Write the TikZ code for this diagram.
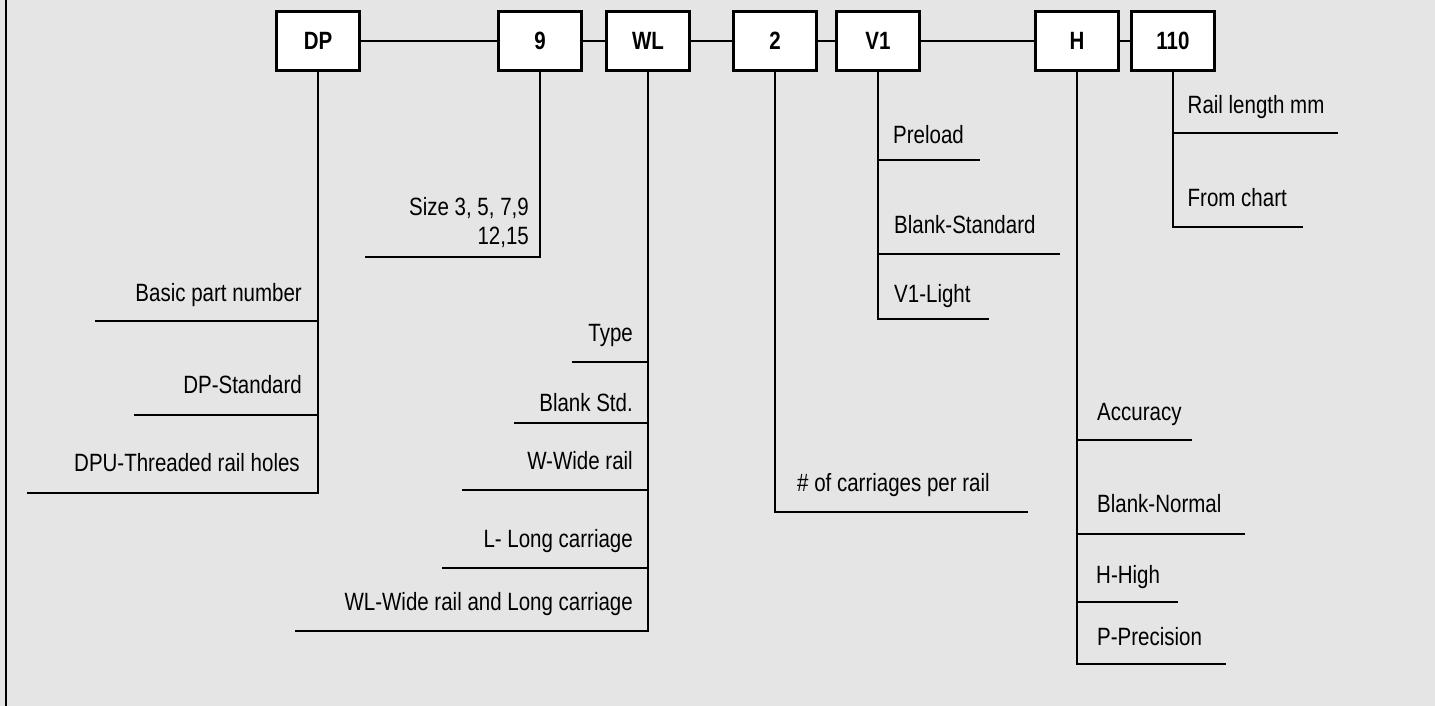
\documentclass[tikz,border=0pt]{standalone}
\usepackage{fontspec}
\setmainfont{Liberation Sans}[FakeStretch=0.82]
\usepackage{xcolor}
\usepackage{tikz}
\usetikzlibrary{positioning,calc}

\definecolor{panelgray}{HTML}{E5E5E5}

\begin{document}
\begin{tikzpicture}[x=1pt, y=-1pt,
  block/.style={rectangle, draw, fill=white, line width=2.2pt, minimum width=83pt, minimum height=59pt, inner sep=0pt, font=\fontsize{25}{29}\selectfont\bfseries},
  line/.style={draw, line width=2pt},
  note/.style={inner sep=0pt, font=\fontsize{25}{29}\selectfont}]

  % panel
  \fill [panelgray] (0,0) rectangle (1435,706);
  \useasboundingbox (0,0) rectangle (1435,706);
  \draw [line width=2.4pt] (5.8,0) -- (5.8,706);

  % code boxes
  \node [block] (dp) at (318,41) {DP};
  \node [block] (size) at (540,41) {9};
  \node [block] (type) at (648,41) {WL};
  \node [block] (qty) at (775,41) {2};
  \node [block] (load) at (878,41) {V1};
  \node [block] (acc) at (1077,41) {H};
  \node [block] (len) at (1173,41) {110};

  \path [line] (dp) -- (size);
  \path [line] (size) -- (type);
  \path [line] (type) -- (qty);
  \path [line] (qty) -- (load);
  \path [line] (load) -- (acc);
  \path [line] (acc) -- (len);

  % DP
  \coordinate (dp1) at (95,321);
  \coordinate (dp2) at (134,415);
  \coordinate (dp3) at (27,493);
  \path [line] (dp.south) |- (dp3);
  \path [line] (dp.south |- dp1) -- (dp1);
  \path [line] (dp.south |- dp2) -- (dp2);
  \node [note, anchor=base east] (dpt1) at (302,301) {Basic part number};
  \node [note, anchor=base east] (dpt2) at (302,393) {DP-Standard};
  \node [note, anchor=base east] (dpt3) at (300,471) {DPU-Threaded rail holes};

  % size
  \coordinate (size1) at (365,257);
  \path [line] (size.south) |- (size1);
  \node [note, anchor=base east] (sizet1) at (529,215) {Size 3, 5, 7,9};
  \node [note, anchor=base east] (sizet2) at (529,244) {12,15};

  % type
  \coordinate (type1) at (572,362);
  \coordinate (type2) at (514,423);
  \coordinate (type3) at (462,490);
  \coordinate (type4) at (442,568);
  \coordinate (type5) at (295,631);
  \path [line] (type.south) |- (type5);
  \path [line] (type.south |- type1) -- (type1);
  \path [line] (type.south |- type2) -- (type2);
  \path [line] (type.south |- type3) -- (type3);
  \path [line] (type.south |- type4) -- (type4);
  \node [note, anchor=base east] (typet1) at (633,341) {Type};
  \node [note, anchor=base east] (typet2) at (633,411) {Blank Std.};
  \node [note, anchor=base east] (typet3) at (633,469) {W-Wide rail};
  \node [note, anchor=base east] (typet4) at (633,547) {L- Long carriage};
  \node [note, anchor=base east] (typet5) at (633,610) {WL-Wide rail and Long carriage};

  % carriages
  \coordinate (qty1) at (1028,512);
  \path [line] (qty.south) |- (qty1);
  \node [note, anchor=base west] (qtyt1) at (797,491) {\# of carriages per rail};

  % preload
  \coordinate (load1) at (980,160.5);
  \coordinate (load2) at (1060,254);
  \coordinate (load3) at (989,318.5);
  \path [line] (load.south) |- (load3);
  \path [line] (load.south |- load1) -- (load1);
  \path [line] (load.south |- load2) -- (load2);
  \node [note, anchor=base west] (loadt1) at (893,143) {Preload};
  \node [note, anchor=base west] (loadt2) at (894,233) {Blank-Standard};
  \node [note, anchor=base west] (loadt3) at (894,302) {V1-Light};

  % accuracy
  \coordinate (acc1) at (1192,439.5);
  \coordinate (acc2) at (1245,533.5);
  \coordinate (acc3) at (1178,602);
  \coordinate (acc4) at (1226,664);
  \path [line] (acc.south) |- (acc4);
  \path [line] (acc.south |- acc1) -- (acc1);
  \path [line] (acc.south |- acc2) -- (acc2);
  \path [line] (acc.south |- acc3) -- (acc3);
  \node [note, anchor=base west] (acct1) at (1097,420) {Accuracy};
  \node [note, anchor=base west] (acct2) at (1097,512.5) {Blank-Normal};
  \node [note, anchor=base west] (acct3) at (1096,583) {H-High};
  \node [note, anchor=base west] (acct4) at (1097,645) {P-Precision};

  % rail length
  \coordinate (len1) at (1338,133);
  \coordinate (len2) at (1303,227);
  \path [line] (len.south) |- (len2);
  \path [line] (len.south |- len1) -- (len1);
  \node [note, anchor=base west] (lent1) at (1187.5,114) {Rail length mm};
  \node [note, anchor=base west] (lent2) at (1187.5,206) {From chart};
\end{tikzpicture}
\end{document}
